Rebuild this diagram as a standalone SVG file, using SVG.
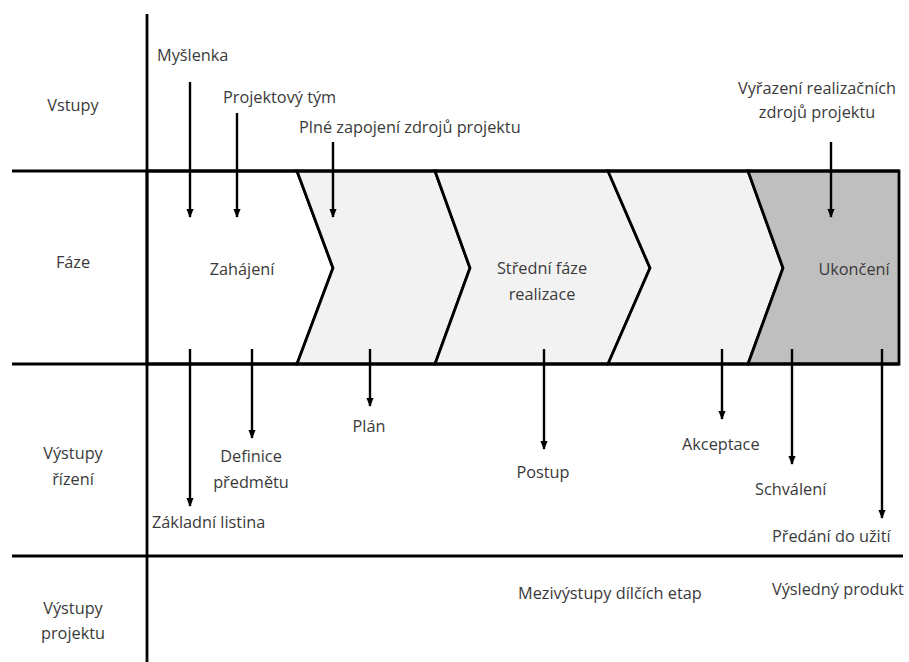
<svg xmlns="http://www.w3.org/2000/svg" width="909" height="662" viewBox="0 0 909 662">
<style>
.t{font-family:"Open Sans","Noto Sans","Liberation Sans",sans-serif;font-size:16.3px;fill:#3a3a3a}
.m{text-anchor:middle}
.ln{stroke:#000;stroke-width:2.8;fill:none}
.ph{stroke:#000;stroke-width:2.8;stroke-linejoin:miter}
.ar{stroke:#000;stroke-width:2.4;fill:none;marker-end:url(#ah)}
</style>
<defs>
<marker id="ah" viewBox="0 0 10 10" refX="9" refY="5" markerWidth="9" markerHeight="9" markerUnits="userSpaceOnUse" orient="auto">
<path d="M0,1 L10,5 L0,9 z" fill="#000"/>
</marker>
</defs>
<rect width="909" height="662" fill="#fff"/>
<g id="phases">
<g id="phase-zahajeni"><polygon class="ph" fill="#fff" points="147,171 297,171 333,268 297,364 147,364"/><text class="t m" x="242" y="275">Zahájení</text></g>
<g id="phase-2"><polygon class="ph" fill="#f2f2f2" points="297,171 435,171 470,268 435,364 297,364 333,268"/></g>
<g id="phase-stredni"><polygon class="ph" fill="#f2f2f2" points="435,171 608,171 650,268 608,364 435,364 470,268"/><text class="t m" x="542" y="274">Střední fáze</text><text class="t m" x="542" y="300">realizace</text></g>
<g id="phase-4"><polygon class="ph" fill="#f2f2f2" points="608,171 748,171 783,268 748,364 608,364 650,268"/></g>
<g id="phase-ukonceni"><polygon class="ph" fill="#bfbfbf" points="748,171 899,171 899,364 748,364 783,268"/><text class="t m" x="854" y="275">Ukončení</text></g>
</g>
<g id="grid">
<line class="ln" x1="147" y1="14" x2="147" y2="662"/>
<line class="ln" x1="12" y1="171" x2="899" y2="171"/>
<line class="ln" x1="12" y1="364" x2="899" y2="364"/>
<line class="ln" x1="12" y1="556" x2="903" y2="556"/>
</g>
<g id="row-labels">
<text class="t m" x="73" y="111">Vstupy</text>
<text class="t m" x="73" y="268">Fáze</text>
<text class="t m" x="73" y="459">Výstupy</text>
<text class="t m" x="73" y="485">řízení</text>
<text class="t m" x="73" y="614">Výstupy</text>
<text class="t m" x="73" y="639">projektu</text>
</g>
<g id="connectors">
<line class="ar" x1="190" y1="82" x2="190" y2="217"/>
<line class="ar" x1="237" y1="113" x2="237" y2="217"/>
<line class="ar" x1="333" y1="142" x2="333" y2="217"/>
<line class="ar" x1="831" y1="142" x2="831" y2="217"/>
<line class="ar" x1="190" y1="349" x2="190" y2="506"/>
<line class="ar" x1="252" y1="349" x2="252" y2="438"/>
<line class="ar" x1="370" y1="349" x2="370" y2="406"/>
<line class="ar" x1="544" y1="349" x2="544" y2="449"/>
<line class="ar" x1="722" y1="349" x2="722" y2="419"/>
<line class="ar" x1="792" y1="349" x2="792" y2="464"/>
<line class="ar" x1="882" y1="349" x2="882" y2="518"/>
</g>
<g id="inputs">
<text class="t" x="157" y="61">Myšlenka</text>
<text class="t" x="223" y="103">Projektový tým</text>
<text class="t" x="299" y="133">Plné zapojení zdrojů projektu</text>
<text class="t m" x="817" y="94">Vyřazení realizačních</text>
<text class="t m" x="817" y="118">zdrojů projektu</text>
</g>
<g id="outputs">
<text class="t m" x="369" y="432">Plán</text>
<text class="t m" x="251" y="462">Definice</text>
<text class="t m" x="251" y="488">předmětu</text>
<text class="t" x="152" y="528">Základní listina</text>
<text class="t m" x="543" y="478">Postup</text>
<text class="t" x="682" y="450">Akceptace</text>
<text class="t" x="755" y="495">Schválení</text>
<text class="t" x="772" y="542">Předání do užití</text>
<text class="t" x="518" y="599">Mezivýstupy dílčích etap</text>
<text class="t" x="772" y="595">Výsledný produkt</text>
</g>
</svg>
